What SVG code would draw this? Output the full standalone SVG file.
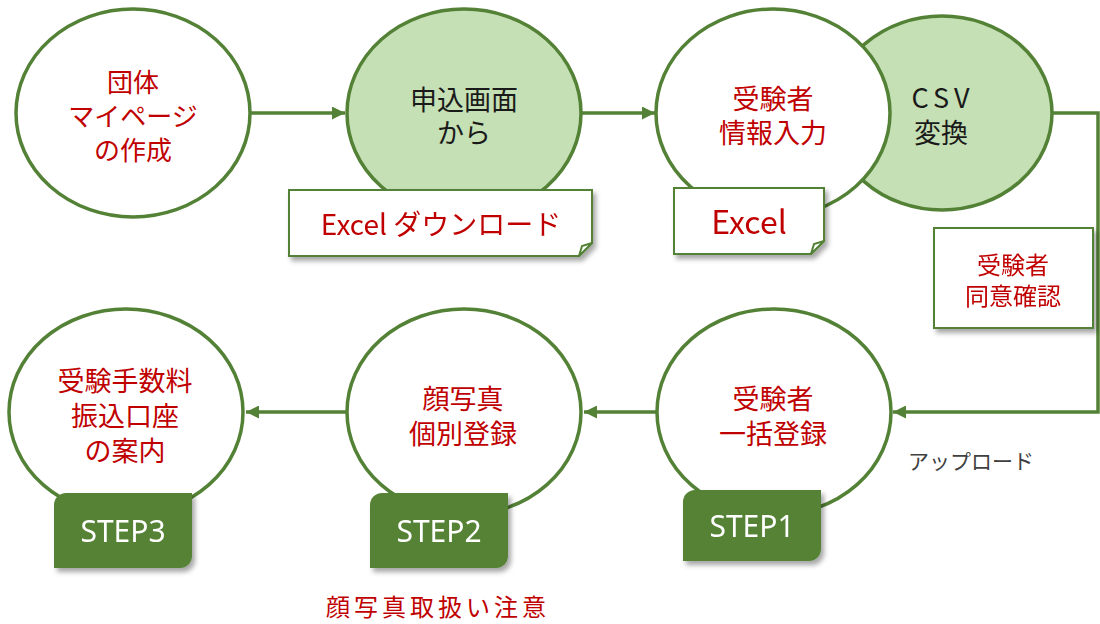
<svg xmlns="http://www.w3.org/2000/svg" width="1100" height="624" viewBox="0 0 1100 624">
<style>
.c{stroke:#538135;stroke-width:3.5}
.w{fill:#fff}
.g{fill:#c5e0b4}
.t{font-family:"Noto Sans CJK JP","Noto Sans",sans-serif;text-anchor:middle;dominant-baseline:central}
.r{fill:#c00000}
.k{fill:#1a1a1a}
.ln{fill:none;stroke:#538135;stroke-width:3.5}
.box{fill:#fff;stroke:#538135;stroke-width:2}
.step{fill:#548235}
.st{font-family:"Noto Sans","Liberation Sans",sans-serif;font-size:30px;fill:#fff;text-anchor:middle;dominant-baseline:central}
</style>
<defs>
<marker id="ah" viewBox="0 0 10 10" refX="10" refY="5" markerWidth="13" markerHeight="13" markerUnits="userSpaceOnUse" orient="auto">
<path d="M0,0 L10,5 L0,10 Z" fill="#538135"/>
</marker>
<filter id="sh" x="-20%" y="-20%" width="140%" height="150%">
<feDropShadow dx="3" dy="4" stdDeviation="2.5" flood-color="#000" flood-opacity="0.35"/>
</filter>
</defs>
<rect width="1100" height="624" fill="#fff"/>

<g id="node-csv">
<ellipse class="c g" cx="942" cy="113" rx="110" ry="97"/>
<text class="t k" font-size="27" letter-spacing="5" x="943" y="96">CSV</text>
<text class="t k" font-size="27" x="941" y="131">変換</text>
</g>
<g id="node-dantai">
<ellipse class="c w" cx="133" cy="113" rx="117" ry="104"/>
<text class="t r" font-size="26" x="133" y="80">団体</text>
<text class="t r" font-size="26" x="133" y="114">マイページ</text>
<text class="t r" font-size="26" x="133" y="148">の作成</text>
</g>
<g id="node-moushikomi">
<ellipse class="c g" cx="464" cy="113" rx="117" ry="104"/>
<text class="t k" font-size="27" x="464" y="98">申込画面</text>
<text class="t k" font-size="27" x="464" y="131">から</text>
</g>
<g id="node-jukensha-input">
<ellipse class="c w" cx="773" cy="113" rx="117" ry="104"/>
<text class="t r" font-size="27" x="773" y="97">受験者</text>
<text class="t r" font-size="27" x="773" y="131">情報入力</text>
</g>
<g id="node-ikkatsu">
<ellipse class="c w" cx="774" cy="412" rx="117" ry="103"/>
<text class="t r" font-size="27" x="773" y="397">受験者</text>
<text class="t r" font-size="27" x="773" y="432">一括登録</text>
</g>
<g id="node-kao">
<ellipse class="c w" cx="464" cy="412" rx="117" ry="103"/>
<text class="t r" font-size="27" x="463" y="397">顔写真</text>
<text class="t r" font-size="27" x="463" y="432">個別登録</text>
</g>
<g id="node-tesuryo">
<ellipse class="c w" cx="126" cy="412" rx="117" ry="103"/>
<text class="t r" font-size="27" x="125" y="379">受験手数料</text>
<text class="t r" font-size="27" x="125" y="414">振込口座</text>
<text class="t r" font-size="27" x="125" y="449">の案内</text>
</g>

<g id="connectors">
<line class="ln" x1="250" y1="113" x2="345" y2="113" marker-end="url(#ah)"/>
<line class="ln" x1="581" y1="113" x2="655" y2="113" marker-end="url(#ah)"/>
<polyline class="ln" points="1052,113 1098,113 1098,412 893,412" marker-end="url(#ah)"/>
<line class="ln" x1="657" y1="412" x2="584" y2="412" marker-end="url(#ah)"/>
<line class="ln" x1="347" y1="412" x2="246" y2="412" marker-end="url(#ah)"/>
</g>

<g id="note-excel-dl" filter="url(#sh)">
<path class="box" d="M289,190 H592 V243 L579,256 H289 Z"/>
<path class="box" d="M592,243 L582,246 L579,256 Z"/>
<text class="t r" font-size="28" x="441" y="223">Excel ダウンロード</text>
</g>
<g id="note-excel" filter="url(#sh)">
<path class="box" d="M674,188 H824 V241 L811,254 H674 Z"/>
<path class="box" d="M824,241 L814,244 L811,254 Z"/>
<text class="t r" font-size="32" x="749" y="220">Excel</text>
</g>
<g id="note-doui" filter="url(#sh)">
<rect class="box" x="934" y="228" width="159" height="100"/>
<text class="t r" font-size="24" x="1013" y="263">受験者</text>
<text class="t r" font-size="24" x="1013" y="294">同意確認</text>
</g>

<g id="step3" filter="url(#sh)">
<path class="step" d="M66,493 H192 V556 A12,12 0 0 1 180,568 H54 V505 A12,12 0 0 1 66,493 Z"/>
<text class="st" x="123" y="530">STEP3</text>
</g>
<g id="step2" filter="url(#sh)">
<path class="step" d="M382,493 H508 V556 A12,12 0 0 1 496,568 H370 V505 A12,12 0 0 1 382,493 Z"/>
<text class="st" x="439" y="530">STEP2</text>
</g>
<g id="step1" filter="url(#sh)">
<path class="step" d="M695,490 H821 V549 A12,12 0 0 1 809,561 H683 V502 A12,12 0 0 1 695,490 Z"/>
<text class="st" x="752" y="525">STEP1</text>
</g>

<g id="label-upload">
<text class="t" font-size="21" fill="#404040" x="971" y="460">アップロード</text>
</g>
<g id="label-kao-chui">
<text font-family="Noto Sans CJK JP, Noto Sans, sans-serif" font-size="24" letter-spacing="4" fill="#c00000" x="326" y="616">顔写真取扱い注意</text>
</g>
</svg>
